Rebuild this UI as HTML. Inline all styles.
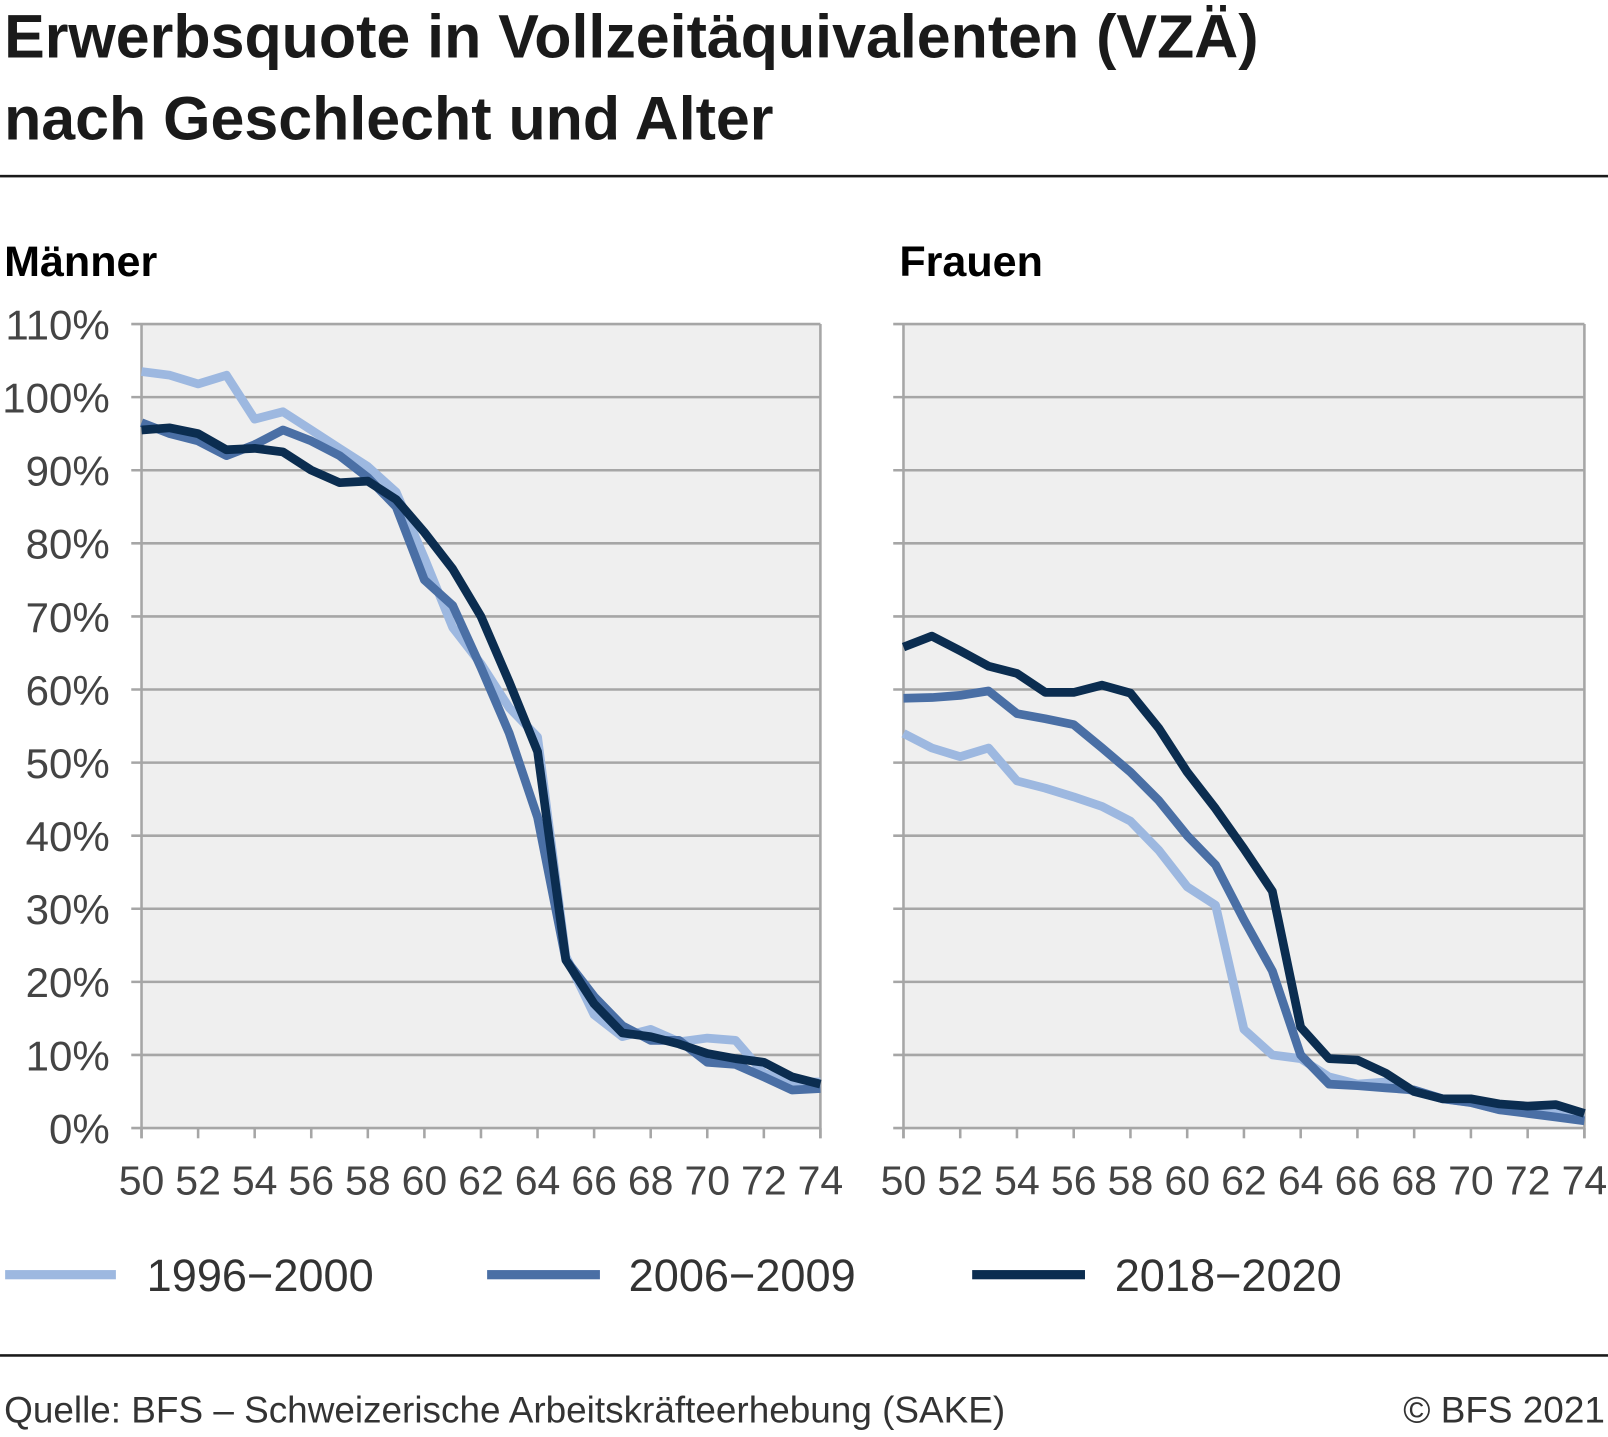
<!DOCTYPE html>
<html><head><meta charset="utf-8"><style>
body{margin:0;background:#fff;width:1608px;height:1432px;overflow:hidden;font-family:"Liberation Sans",sans-serif;color:#1a1a1a}
svg text{font-family:"Liberation Sans",sans-serif}
</style></head><body>
<svg id="c" width="1608" height="1432" viewBox="0 0 1568 1396.4">
<text x="4" y="56" font-size="59.4" font-weight="bold" fill="#1a1a1a">Erwerbsquote in Vollzeitäquivalenten (VZÄ)</text>
<text x="4" y="136" font-size="59.4" font-weight="bold" fill="#1a1a1a">nach Geschlecht und Alter</text>
<rect x="0" y="170.5" width="1568" height="2.5" fill="#1a1a1a"/>
<text x="4" y="269" font-size="42" font-weight="bold">Männer</text>
<text x="877" y="269" font-size="42" font-weight="bold">Frauen</text>
<g id="plots"></g>
<rect x="5" y="1238.5" width="108" height="9" fill="#9db8e0"/>
<text x="143" y="1259" font-size="44" fill="#333">1996−2000</text>
<rect x="475" y="1238.5" width="110" height="9" fill="#4a6fa5"/>
<text x="613" y="1259" font-size="44" fill="#333">2006−2009</text>
<rect x="948" y="1238.5" width="110" height="9" fill="#0b2d50"/>
<text x="1087" y="1259" font-size="44" fill="#333">2018−2020</text>
<rect x="0" y="1320.5" width="1568" height="2.5" fill="#1a1a1a"/>
<text x="4" y="1387" font-size="36" fill="#333">Quelle: BFS – Schweizerische Arbeitskräfteerhebung (SAKE)</text>
<text x="1565" y="1387" font-size="36" fill="#333" text-anchor="end">© BFS 2021</text>
</svg>
<script>
const ages=[50,51,52,53,54,55,56,57,58,59,60,61,62,63,64,65,66,67,68,69,70,71,72,73,74];
const yTicks=[0,10,20,30,40,50,60,70,80,90,100,110];
const xTicks=[50,52,54,56,58,60,62,64,66,68,70,72,74];
const men1996=[103.5,103,101.8,103,97,98,95.5,93,90.5,87,78,68.5,63.5,57.5,53.5,23.5,15.5,12.5,13.5,11.8,12.3,12,7.5,6.3,6.3];
const men2006=[96.5,95,94,92,93.5,95.5,94,92,89,85,75,71.5,63,54,42.5,23,18,14,12,12,9,8.7,7,5.2,5.4];
const men2018=[95.5,95.8,95,92.8,93,92.5,90,88.3,88.5,86,81.5,76.5,70,61,51.5,23,17,13,12.5,11.5,10.2,9.5,9,7,6];
const women1996=[54,52,50.8,52,47.5,46.5,45.3,44,42,38,33,30.5,13.5,10,9.5,7,6,6.3,5,4,3.5,2.5,2.2,2,2];
const women2006=[58.8,58.9,59.2,59.8,56.7,56,55.2,52,48.7,44.8,40,36,28.5,21.5,10,6,5.8,5.5,5.2,4,3.5,2.5,2,1.5,1];
const women2018=[65.8,67.3,65.3,63.2,62.2,59.6,59.6,60.6,59.5,54.7,48.7,43.7,38.2,32.4,13.8,9.5,9.3,7.5,5,4,4,3.3,3,3.2,2];
const colors=["#9db8e0","#4a6fa5","#0b2d50"];
const NS="http://www.w3.org/2000/svg";
const root=document.getElementById('plots');
function mk(tag,attrs,parent){const e=document.createElementNS(NS,tag);for(const k in attrs)e.setAttribute(k,attrs[k]);parent.appendChild(e);return e;}
function panel(x0,x1,series,name,showY){
  const y0=1100,y1=316;
  const sx=a=>x0+(a-50)/24*(x1-x0);
  const sy=v=>y0-v/110*(y0-y1);
  const g=mk('g',{},root);
  
  
  const bg=mk('rect',{x:x0,y:y1,width:x1-x0,height:y0-y1,fill:'#efefef'},g);
  
  
  yTicks.forEach(t=>{
    const l=mk('line',{x1:x0-10,x2:x1,y1:sy(t),y2:sy(t),stroke:'#a6a6a6','stroke-width':2.5},g);
    
    
    if(showY){
      const tx=mk('text',{x:107,y:sy(t)+15,'font-size':41,'text-anchor':'end',fill:'#444'},g);
      tx.textContent=t+'%';
      
      
    }
  });
  const al=mk('line',{x1:x0,x2:x0,y1:y1,y2:y0+10,stroke:'#a6a6a6','stroke-width':2.5},g);
  
  
  const ar=mk('line',{x1:x1,x2:x1,y1:y1,y2:y0+10,stroke:'#a6a6a6','stroke-width':2.5},g);
  
  
  xTicks.forEach(t=>{
    const l=mk('line',{x1:sx(t),x2:sx(t),y1:y0,y2:y0+10,stroke:'#a6a6a6','stroke-width':2.5},g);
    
    
    const tx=mk('text',{x:sx(t),y:1165,'font-size':40,'text-anchor':'middle',fill:'#444'},g);
    tx.textContent=t;
    
    
  });
  series.forEach((s,i)=>{
    const d=ages.map((a,j)=>(j?'L':'M')+sx(a).toFixed(1)+' '+sy(s[j]).toFixed(1)).join(' ');
    const p=mk('path',{d:d,fill:'none',stroke:colors[i],'stroke-width':8.5,'stroke-linejoin':'round'},g);
    
    
  });
}
panel(138,800,[men1996,men2006,men2018],'men',true);
panel(881,1545,[women1996,women2006,women2018],'women',false);
</script>
</body></html>
